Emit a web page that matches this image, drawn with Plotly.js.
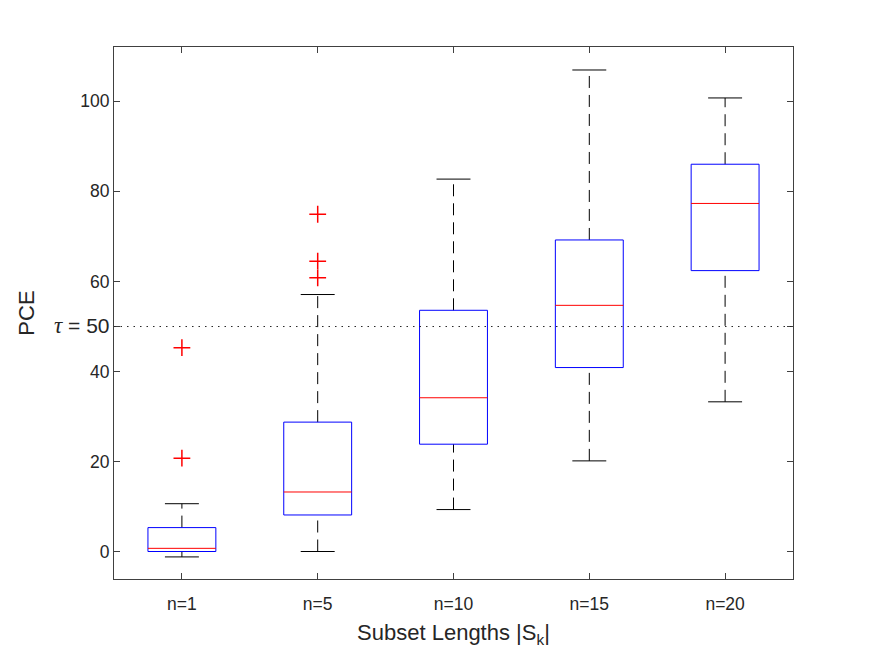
<!DOCTYPE html>
<html>
<head>
<meta charset="utf-8">
<script src="https://cdn.plot.ly/plotly-3.0.1.min.js"></script>
<style>html,body{margin:0;padding:0;background:#fff;}#chart{width:875px;height:657px;}</style>
</head>
<body>
<div id="chart"></div>
<script>
var categories = ["n=1", "n=5", "n=10", "n=15", "n=20"];
var lowerWhisker = [-1.1, 0.1, 9.4, 20.2, 33.3];
var q1 = [0.1, 8.2, 23.9, 40.9, 62.4];
var median = [0.8, 13.3, 34.2, 54.7, 77.3];
var q3 = [5.4, 28.8, 53.6, 69.2, 86.0];
var upperWhisker = [10.7, 57.1, 82.7, 106.9, 100.7];
var outliers = [[45.3, 20.8], [74.9, 64.5, 60.8], [], [], []];
var tau = 50;
var yTicks = [0, 20, 40, 60, 80, 100];

var boxHalf = 0.25, capHalf = 0.125;
var bx = [], by = [], mx = [], my = [], wx = [], wy = [], cx = [], cy = [], ox = [], oy = [];
for (var i = 0; i < categories.length; i++) {
  var p = i + 1;
  bx.push(p - boxHalf, p + boxHalf, p + boxHalf, p - boxHalf, p - boxHalf, null);
  by.push(q1[i], q1[i], q3[i], q3[i], q1[i], null);
  mx.push(p - boxHalf, p + boxHalf, null);
  my.push(median[i], median[i], null);
  wx.push(p, p, null, p, p, null);
  wy.push(q3[i], upperWhisker[i], null, lowerWhisker[i], q1[i], null);
  cx.push(p - capHalf, p + capHalf, null, p - capHalf, p + capHalf, null);
  cy.push(upperWhisker[i], upperWhisker[i], null, lowerWhisker[i], lowerWhisker[i], null);
  for (var j = 0; j < outliers[i].length; j++) { ox.push(p); oy.push(outliers[i][j]); }
}

var traces = [
  {x: wx, y: wy, mode: 'lines', line: {color: '#000000', width: 1, dash: '12px,7px'}, hoverinfo: 'skip'},
  {x: cx, y: cy, mode: 'lines', line: {color: '#000000', width: 1}, hoverinfo: 'skip'},
  {x: bx, y: by, mode: 'lines', line: {color: '#0000ff', width: 1}, hoverinfo: 'skip'},
  {x: mx, y: my, mode: 'lines', line: {color: '#ff0000', width: 1}, hoverinfo: 'skip'},
  {x: ox, y: oy, mode: 'markers', marker: {symbol: 'cross-thin', size: 12, line: {color: '#ff0000', width: 1.5}}, hoverinfo: 'skip'}
];

var tickVals = yTicks.slice(); tickVals.push(tau);
var tickText = yTicks.map(String);
tickText.push('<span style="font-size:21px"><span style="font-family:\'Liberation Serif\';font-style:italic;font-size:23px">τ</span> = ' + tau + '</span>');

var layout = {
  width: 875, height: 657,
  margin: {l: 114, r: 82, t: 47, b: 78},
  paper_bgcolor: '#ffffff', plot_bgcolor: '#ffffff',
  showlegend: false,
  font: {family: 'Liberation Sans, Arial, sans-serif', size: 18, color: '#262626'},
  xaxis: {
    range: [0.5, 5.5], tickvals: [1, 2, 3, 4, 5], ticktext: categories,
    ticks: 'inside', ticklen: 6, tickcolor: '#404040', tickwidth: 1,
    showline: true, linecolor: '#404040', linewidth: 1, mirror: 'ticks',
    showgrid: false, zeroline: false,
    ticklabelstandoff: 9,
    tickfont: {size: 17.5, color: '#262626'},
    title: {text: 'Subset Lengths |S<sub>k</sub>|', font: {size: 22, color: '#262626'}, standoff: 11}
  },
  yaxis: {
    range: [-6, 112], tickvals: tickVals, ticktext: tickText,
    ticks: 'inside', ticklen: 6, tickcolor: '#404040', tickwidth: 1,
    showline: true, linecolor: '#404040', linewidth: 1, mirror: 'ticks',
    showgrid: false, zeroline: false,
    tickfont: {size: 17.5, color: '#262626'},
    title: {text: 'PCE', font: {size: 22, color: '#262626'}, standoff: 13}
  },
  shapes: [
    {type: 'line', xref: 'paper', x0: 0, x1: 1, yref: 'y', y0: tau, y1: tau,
     line: {color: '#262626', width: 1, dash: '1.5px,5px'}}
  ]
};

Plotly.newPlot('chart', traces, layout, {displayModeBar: false, staticPlot: true});
</script>
</body>
</html>
